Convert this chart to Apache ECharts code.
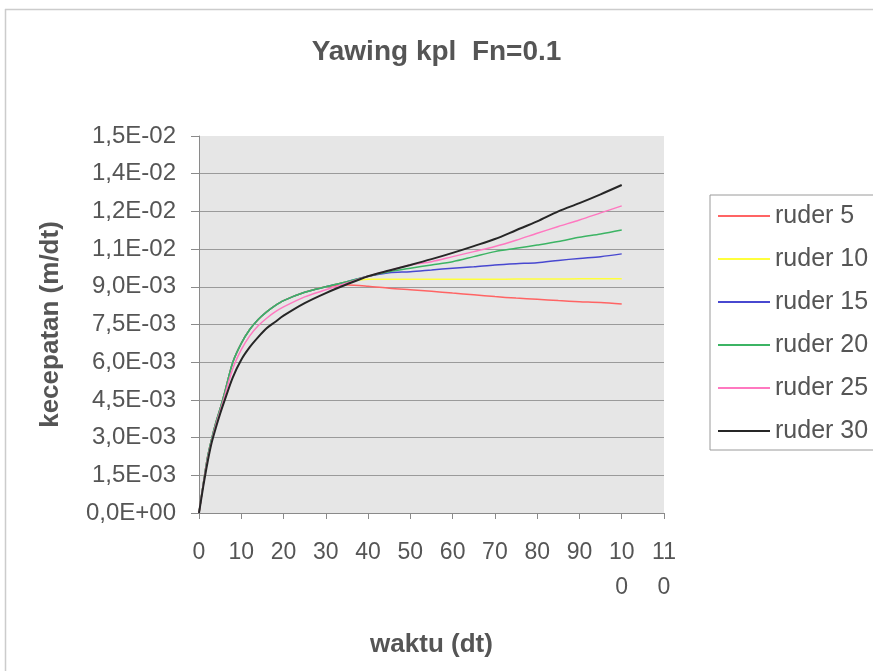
<!DOCTYPE html>
<html>
<head>
<meta charset="utf-8">
<script src="https://cdn.jsdelivr.net/npm/echarts@6/dist/echarts.min.js"></script>
<style>
  html, body { margin: 0; padding: 0; background: #ffffff; }
  #chart { width: 873px; height: 671px; }
</style>
</head>
<body>
<div id="chart"></div>
<script>
// Time (s)
const waktu = [0, 1, 2, 3, 4, 5, 6, 8, 10, 12, 14, 16, 18, 20, 25, 30, 35, 40,
               45, 50, 55, 60, 65, 70, 75, 80, 85, 90, 95, 100];

// Speed (m/dt), in units of 1e-3
const ruder5  = [0, 1.15, 2.2, 2.95, 3.6, 4.15, 4.75, 6.0, 6.75, 7.3, 7.7, 8.0, 8.25, 8.45, 8.78, 9.0, 9.07, 9.02,
                 8.94, 8.88, 8.82, 8.75, 8.68, 8.61, 8.55, 8.5, 8.45, 8.41, 8.38, 8.32];
const ruder10 = [0, 1.15, 2.2, 2.95, 3.6, 4.15, 4.75, 6.0, 6.75, 7.3, 7.7, 8.0, 8.25, 8.45, 8.78, 9.0, 9.2, 9.3,
                 9.3, 9.3, 9.3, 9.3, 9.3, 9.3, 9.31, 9.31, 9.31, 9.32, 9.32, 9.32];
const ruder15 = [0, 1.15, 2.2, 2.95, 3.6, 4.15, 4.75, 6.0, 6.75, 7.3, 7.7, 8.0, 8.25, 8.45, 8.78, 9.0, 9.2, 9.42,
                 9.56, 9.6, 9.67, 9.74, 9.8, 9.87, 9.92, 9.96, 10.05, 10.13, 10.2, 10.31];
const ruder20 = [0, 1.15, 2.2, 2.95, 3.6, 4.15, 4.75, 6.0, 6.75, 7.3, 7.7, 8.0, 8.25, 8.45, 8.78, 9.0, 9.2, 9.42,
                 9.6, 9.74, 9.87, 10.0, 10.2, 10.4, 10.53, 10.66, 10.8, 10.97, 11.1, 11.26];
const ruder25 = [0, 1.1, 2.1, 2.85, 3.5, 4.05, 4.6, 5.75, 6.5, 7.05, 7.45, 7.75, 8.0, 8.2, 8.6, 8.88, 9.15, 9.42,
                 9.65, 9.87, 10.0, 10.2, 10.4, 10.6, 10.85, 11.13, 11.4, 11.66, 11.94, 12.22];
const ruder30 = [0, 1.05, 2.0, 2.8, 3.4, 3.95, 4.45, 5.4, 6.1, 6.6, 7.0, 7.35, 7.6, 7.85, 8.35, 8.75, 9.1, 9.42,
                 9.65, 9.87, 10.1, 10.35, 10.62, 10.9, 11.25, 11.6, 12.0, 12.33, 12.68, 13.05];

const seriesNames = ['ruder 5', 'ruder 10', 'ruder 15', 'ruder 20', 'ruder 25', 'ruder 30'];
const seriesValues = [ruder5, ruder10, ruder15, ruder20, ruder25, ruder30];
const seriesColors = ['#ff6464', '#ffff3c', '#4848d0', '#3cb464', '#ff78c0', '#262626'];
const seriesWidths = [1.5, 1.5, 1.5, 1.5, 1.5, 2];

const xTickLabels = ['0', '10', '20', '30', '40', '50', '60', '70', '80', '90', '10\n0', '11\n0'];
const yTickLabels = ['0,0E+00', '1,5E-03', '3,0E-03', '4,5E-03', '6,0E-03', '7,5E-03',
                     '9,0E-03', '1,1E-02', '1,2E-02', '1,4E-02', '1,5E-02'];

const textColor = '#555555';
const fontFamily = 'Arial, "Liberation Sans", sans-serif';

const chart = echarts.init(document.getElementById('chart'), null, { renderer: 'canvas' });

chart.setOption({
  backgroundColor: '#ffffff',
  animation: false,
  title: {
    text: 'Yawing kpl  Fn=0.1',
    left: 'center',
    top: 33,
    textStyle: { color: textColor, fontSize: 28, fontWeight: 'bold', fontFamily: fontFamily }
  },
  graphic: [
    { type: 'line', shape: { x1: 5, y1: 9.5, x2: 873, y2: 9.5 }, style: { stroke: '#cccccc', lineWidth: 1.5 } },
    { type: 'line', shape: { x1: 5.5, y1: 9, x2: 5.5, y2: 671 }, style: { stroke: '#cccccc', lineWidth: 1.5 } }
  ],
  grid: {
    left: 199,
    right: 873 - 664,
    top: 136,
    bottom: 671 - 513,
    show: true,
    backgroundColor: '#e6e6e6',
    borderWidth: 0
  },
  legend: {
    orient: 'vertical',
    left: 710,
    top: 195,
    padding: [8, 40, 6, 8],
    borderColor: '#9a9a9a',
    borderWidth: 1,
    backgroundColor: '#ffffff',
    icon: 'rect',
    itemWidth: 52,
    itemHeight: 2,
    itemGap: 17,
    data: seriesNames,
    textStyle: { color: textColor, fontSize: 25, lineHeight: 26, fontFamily: fontFamily, padding: [0, 0, 0, 0] }
  },
  xAxis: {
    type: 'value',
    min: 0,
    max: 110,
    interval: 10,
    name: 'waktu (dt)',
    nameLocation: 'middle',
    nameGap: 119,
    nameTextStyle: { color: textColor, fontSize: 26, fontWeight: 'bold', fontFamily: fontFamily },
    axisLine: { show: true, lineStyle: { color: '#8a8a8a', width: 1 } },
    axisTick: { show: true, length: 6, lineStyle: { color: '#8a8a8a' } },
    axisLabel: {
      color: textColor,
      fontSize: 23,
      lineHeight: 35,
      margin: 22,
      fontFamily: fontFamily,
      verticalAlign: 'top',
      formatter: function (v) { return xTickLabels[Math.round(v / 10)]; }
    },
    splitLine: { show: false }
  },
  yAxis: {
    type: 'value',
    min: 0,
    max: 0.015,
    interval: 0.0015,
    name: 'kecepatan (m/dt)',
    nameLocation: 'middle',
    nameGap: 135,
    nameTextStyle: { color: textColor, fontSize: 26, fontWeight: 'bold', fontFamily: fontFamily },
    axisLine: { show: true, lineStyle: { color: '#8a8a8a', width: 1 } },
    axisTick: { show: true, length: 8, lineStyle: { color: '#8a8a8a' } },
    axisLabel: {
      color: textColor,
      fontSize: 24,
      margin: 23,
      fontFamily: fontFamily,
      formatter: function (v) { return yTickLabels[Math.round(v / 0.0015)]; }
    },
    splitLine: { show: true, showMaxLine: false, lineStyle: { color: '#9a9a9a', width: 1 } }
  },
  series: seriesNames.map(function (name, i) {
    return {
      name: name,
      type: 'line',
      symbol: 'none',
      smooth: 0.3,
      color: seriesColors[i],
      lineStyle: { color: seriesColors[i], width: seriesWidths[i] },
      data: waktu.map(function (t, j) { return [t, seriesValues[i][j] * 1e-3]; })
    };
  })
});
</script>
</body>
</html>
